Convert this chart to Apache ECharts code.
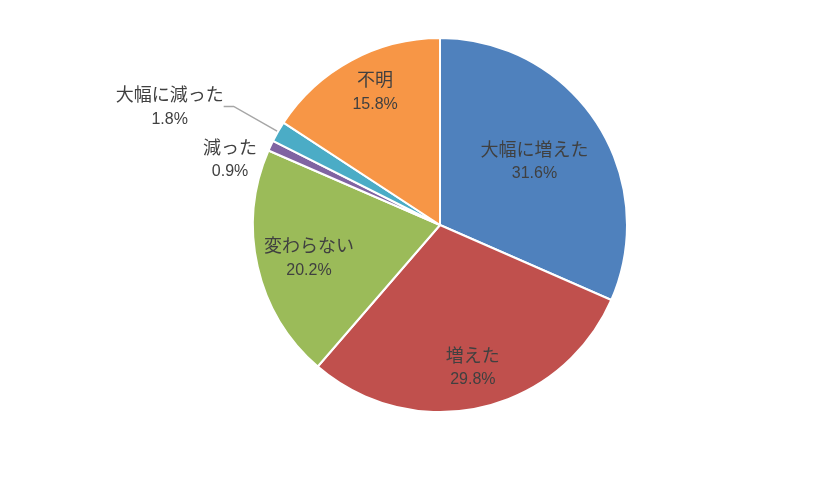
<!DOCTYPE html>
<html><head><meta charset="utf-8">
<script src="https://cdn.jsdelivr.net/npm/echarts@6/dist/echarts.min.js"></script>
<style>html,body{margin:0;padding:0;background:#fff}#c{width:840px;height:491px}</style>
</head><body><div id="c"></div>
<script>
const categories = ['大幅に増えた', '増えた', '変わらない', '減った', '大幅に減った', '不明'];
const values = [31.6, 29.8, 20.2, 0.9, 1.8, 15.8];
const colors = ['#4F81BD', '#C0504D', '#9BBB59', '#8064A2', '#4BACC6', '#F79646'];
// label placement: [angle clockwise from top (deg), distance from centre (px)]
const labelSpots = [[56, 114], [167, 146], [256, 135], [287.4, 220], [293.6, 295], [334, 148]];
const showLine = [false, false, false, false, true, false];

const CX = 440, CY = 225, R = 187;
const chart = echarts.init(document.getElementById('c'));
chart.setOption({
  animation: false,
  backgroundColor: '#fff',
  series: [{
    type: 'pie',
    center: [CX, CY],
    radius: R,
    startAngle: 90,
    clockwise: true,
    avoidLabelOverlap: false,
    itemStyle: { borderColor: '#fff', borderWidth: 2 },
    label: {
      show: true,
      position: 'outside',
      align: 'center',
      color: '#404040',
      formatter: p => '{n|' + p.name + '}\n{v|' + p.value.toFixed(1) + '%}',
      rich: {
        n: { fontSize: 18, lineHeight: 25, color: '#404040', fontFamily: '"Noto Sans CJK JP", sans-serif', align: 'center' },
        v: { fontSize: 16, lineHeight: 25, color: '#404040', fontFamily: '"Liberation Sans", Arial, sans-serif', align: 'center' }
      }
    },
    labelLine: { show: false, length: 10, length2: 10, lineStyle: { color: '#A6A6A6', width: 1.5 } },
    labelLayout: p => {
      const s = labelSpots[p.dataIndex];
      const a = s[0] * Math.PI / 180;
      return { x: CX + Math.sin(a) * s[1], y: CY - Math.cos(a) * s[1], align: 'center', verticalAlign: 'middle' };
    },
    data: categories.map((c, i) => ({
      name: c,
      value: values[i],
      itemStyle: { color: colors[i] },
      labelLine: { show: showLine[i] }
    }))
  }]
});
</script></body></html>
